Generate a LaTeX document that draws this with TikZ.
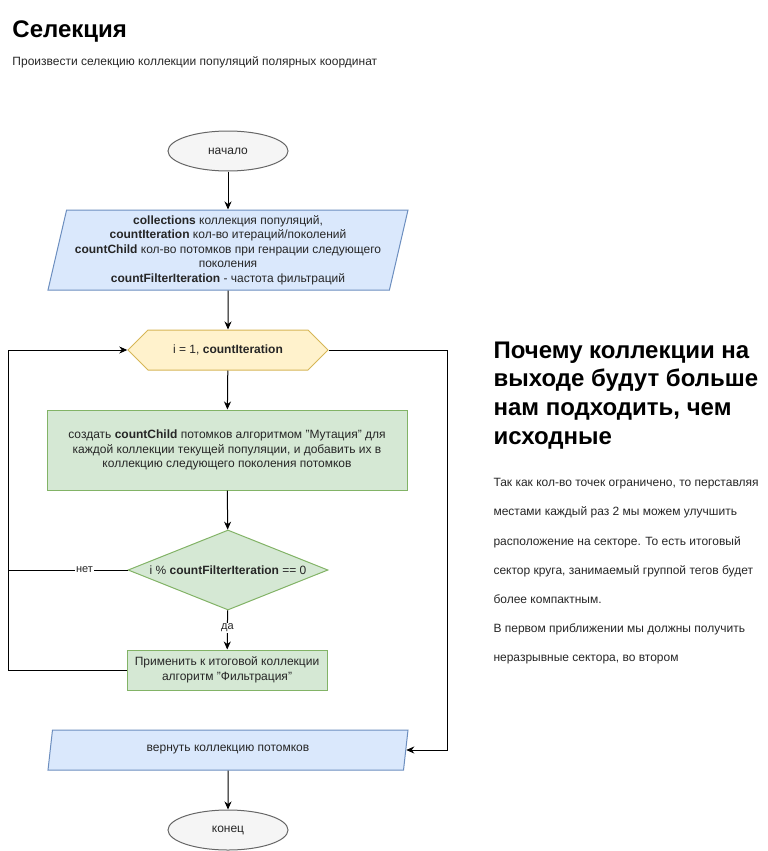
\documentclass[tikz,border=0pt]{standalone}
\usepackage{fontspec}
\setmainfont{Liberation Sans}
\usetikzlibrary{shapes.geometric,shapes.symbols,arrows.meta}
\definecolor{greyFill}{HTML}{F5F5F5}
\definecolor{greyLine}{HTML}{666666}
\definecolor{blueFill}{HTML}{DAE8FC}
\definecolor{blueLine}{HTML}{6C8EBF}
\definecolor{yellowFill}{HTML}{FFF2CC}
\definecolor{yellowLine}{HTML}{D6B656}
\definecolor{greenFill}{HTML}{D5E8D4}
\definecolor{greenLine}{HTML}{82B366}
\begin{document}
\begin{tikzpicture}[x=1pt,y=-1pt,line width=1pt,
  every node/.style={inner sep=0pt,text=black!85,
    font=\fontsize{12}{14.5}\selectfont},
  terminal/.style={ellipse,draw=greyLine,fill=greyFill,
    minimum width=120,minimum height=40},
  iobox/.style={trapezium,trapezium stretches body,draw=blueLine,
    fill=blueFill,align=center},
  loopbox/.style={signal,signal to=west and east,signal pointer angle=90,
    draw=yellowLine,fill=yellowFill,minimum width=200,minimum height=40},
  procbox/.style={rectangle,draw=greenLine,fill=greenFill,align=center},
  decision/.style={diamond,draw=greenLine,fill=greenFill,
    minimum width=200,minimum height=80},
  branch/.style={fill=white,inner sep=1pt,
    font=\fontsize{11}{13}\selectfont},
  flow/.style={-{Stealth[length=8pt,width=7pt,inset=2.5pt]}}]
  \useasboundingbox (0,0) rectangle (768,851);
  % headings
  \node[anchor=base west,text=black,font=\bfseries\fontsize{24}{28}\selectfont]
    (title) at (12,38) {Селекция};
  \node[anchor=base west,font=\fontsize{12}{14}\selectfont]
    (subtitle) at (12,66) {Произвести селекцию коллекции популяций полярных координат};
  % flowchart
  \node[terminal] (start) at (228,151) {начало};
  \node[iobox,trapezium left angle=75,trapezium right angle=105,
    minimum width=360,minimum height=80] (input) at (228,250)
    {\textbf{collections} коллекция популяций,\\
     \textbf{countIteration} кол-во итераций/поколений\\
     \textbf{countChild} кол-во потомков при генрации следующего\\
     поколения\\
     \textbf{countFilterIteration} - частота фильтраций};
  \node[loopbox] (loop) at (228,350)
    {\makebox[0pt]{i = 1, \textbf{countIteration}}};
  \node[procbox,minimum width=360,minimum height=80] (mutate) at (227,450)
    {создать \textbf{countChild} потомков алгоритмом "Мутация" для\\
     каждой коллекции текущей популяции, и добавить их в\\
     коллекцию следующего поколения потомков};
  \node[decision] (check) at (228,570)
    {\makebox[0pt]{i \% \textbf{countFilterIteration} == 0}};
  \node[procbox,minimum width=200,minimum height=40] (filter) at (227,670)
    {Применить к итоговой коллекции\\ алгоритм "Фильтрация"};
  \node[iobox,trapezium left angle=63.4,trapezium right angle=116.6,
    minimum width=360,minimum height=40] (output) at (228,750)
    {вернуть коллекцию потомков};
  \node[terminal] (stop) at (228,830) {конец};
  \coordinate (leftRail) at (8,350);
  \coordinate (rightRail) at (447,350);
  \draw[flow] (start) -- (input);
  \draw[flow] (input) -- (loop);
  \draw[flow] (loop) -- (mutate);
  \draw[flow] (mutate) -- (check);
  \draw[flow] (check) -- node[branch,pos=0.45] (yes) {да} (filter);
  \draw (check.west) -- node[branch,pos=0.36] (no) {нет} (check.west -| leftRail);
  \draw[flow] (filter.west) -| (leftRail) |- (loop.west);
  \draw[flow] (loop.east) -- (rightRail) |- (output.east);
  \draw[flow] (output) -- (stop);
  % note on the right
  \node[anchor=north west,align=left,text=black,
    font=\bfseries\fontsize{24}{28.7}\selectfont] (noteHead) at (493,341)
    {Почему коллекции на\\ выходе будут больше\\ нам подходить, чем\\ исходные};
  \node[anchor=north west,align=left,
    font=\fontsize{12}{29.2}\selectfont] (noteBody) at (493,478)
    {Так как кол-во точек ограничено, то перставляя\\
     местами каждый раз 2 мы можем улучшить\\
     расположение на секторе. То есть итоговый\\
     сектор круга, занимаемый группой тегов будет\\
     более компактным.\\
     В первом приближении мы должны получить\\
     неразрывные сектора, во втором};
\end{tikzpicture}
\end{document}
